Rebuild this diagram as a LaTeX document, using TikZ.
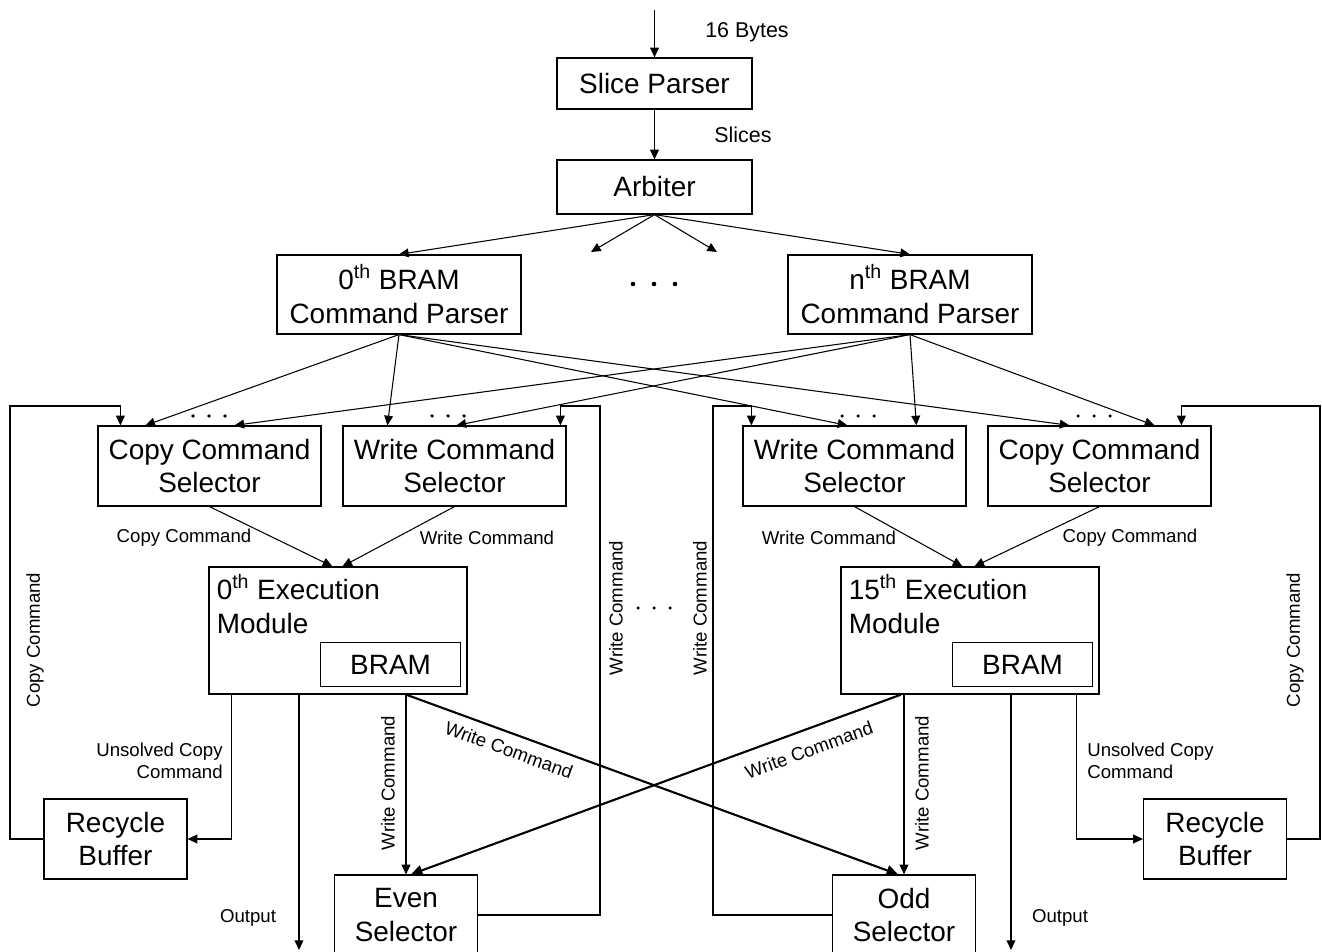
\documentclass[tikz,border=0pt]{standalone}
\usepackage{fontspec}
\setmainfont{Liberation Sans}
\usetikzlibrary{arrows.meta,calc}

\newcommand{\boxfont}{\fontsize{15.9}{19.3}\selectfont}
\newcommand{\lblfont}{\fontsize{10.6}{12.6}\selectfont}
\newcommand{\topfont}{\fontsize{12.2}{14}\selectfont}
% three dots in a row: x, y, spacing, radius
\newcommand{\dotrow}[4]{\foreach \k in {-1,0,1} {\fill (#1+\k*#3,#2) circle[radius=#4];}}

\tikzset{
  blk/.style={draw, line width=0.7pt, inner sep=0pt, align=center, font=\boxfont},
  selbox/.style={blk, minimum width=4.46cm, minimum height=1.6cm},
  smallbox/.style={blk, minimum width=2.86cm, minimum height=1.6cm},
  embox/.style={draw, line width=0.7pt, inner sep=0pt, minimum width=5.16cm, minimum height=2.54cm},
  lbl/.style={inner sep=0pt, font=\lblfont, align=center},
  toplbl/.style={inner sep=0pt, font=\topfont},
  conn/.style={line width=0.6pt, -{Triangle[length=5.5pt,width=5pt]}},
  cross/.style={line width=1.2pt, -{Triangle[length=6.5pt,width=6pt]}},
}

\begin{document}
\begin{tikzpicture}[x=0.02cm, y=-0.02cm]
  \useasboundingbox (0,0) rectangle (1322,952);
  \clip (0,0) rectangle (1322,952);

  % Input side
  \node[blk, minimum width=3.9cm, minimum height=1.02cm] (sp) at (654.5,83.5) {Slice Parser};
  \node[blk, minimum width=3.9cm, minimum height=1.08cm] (arb) at (654.5,187) {Arbiter};
  \coordinate (in) at (654.5,10);
  \draw[conn] (in) -- (sp.north);
  \node[toplbl] (bytes) at (747,32) {16 Bytes};
  \draw[conn] (sp.south) -- (arb.north);
  \node[toplbl] (slices) at (743,135) {Slices};

  % BRAM command parsers
  \node[blk, minimum width=4.88cm, minimum height=1.58cm] (cp0) at (399,294.5) {0\textsuperscript{th} BRAM\\Command Parser};
  \node[blk, minimum width=4.88cm, minimum height=1.58cm] (cpn) at (910,294.5) {n\textsuperscript{th} BRAM\\Command Parser};
  \coordinate (d1) at (591,252);
  \coordinate (d2) at (717,252);
  \draw[conn] (arb.south) -- (cp0.north);
  \draw[conn] (arb.south) -- (d1);
  \draw[conn] (arb.south) -- (d2);
  \draw[conn] (arb.south) -- (cpn.north);
  \dotrow{654}{284}{21}{1.3pt}

  % Selectors
  \node[selbox] (cpl) at (209.5,466) {Copy Command\\Selector};
  \node[selbox] (wrl) at (454.5,466) {Write Command\\Selector};
  \node[selbox] (wrr) at (854.5,466) {Write Command\\Selector};
  \node[selbox] (cpr) at (1099.5,466) {Copy Command\\Selector};

  % Parsers to selectors
  \draw[conn] (cp0.south) -- ($(cpl.north west)+(48,0)$);
  \draw[conn] (cp0.south) -- ($(wrl.north west)+(45,0)$);
  \draw[conn] (cp0.south) -- ($(wrr.north west)+(105,0)$);
  \draw[conn] (cp0.south) -- ($(cpr.north west)+(82,0)$);
  \draw[conn] (cpn.south) -- ($(cpl.north west)+(137,0)$);
  \draw[conn] (cpn.south) -- ($(wrl.north west)+(114,0)$);
  \draw[conn] (cpn.south) -- ($(wrr.north west)+(174,0)$);
  \draw[conn] (cpn.south) -- ($(cpr.north west)+(167,0)$);
  \dotrow{209}{416}{16}{1pt}
  \dotrow{448}{416}{16}{1pt}
  \dotrow{858}{416}{16}{1pt}
  \dotrow{1094}{416}{16}{1pt}

  % Execution modules
  \node[embox] (eml) at (338,630.5) {};
  \node[embox] (emr) at (970,630.5) {};
  \node[anchor=north west, align=left, font=\boxfont, inner sep=0pt] (emlt) at ($(eml.north west)+(8,8)$) {0\textsuperscript{th} Execution\\Module};
  \node[anchor=north west, align=left, font=\boxfont, inner sep=0pt] (emrt) at ($(emr.north west)+(8,8)$) {15\textsuperscript{th} Execution\\Module};
  \node[blk, minimum width=2.8cm, minimum height=0.88cm] (braml) at ($(eml.south east)+(-77,-30)$) {BRAM};
  \node[blk, minimum width=2.8cm, minimum height=0.88cm] (bramr) at ($(emr.south east)+(-77,-30)$) {BRAM};

  % Selectors to execution modules
  \draw[conn] (cpl.south) -- ($(eml.north west)+(124,0)$);
  \draw[conn] (wrl.south) -- ($(eml.north west)+(134,0)$);
  \draw[conn] (wrr.south) -- ($(emr.north west)+(122,0)$);
  \draw[conn] (cpr.south) -- ($(emr.north west)+(134,0)$);
  \node[lbl] (lc1) at (184,538) {Copy Command};
  \node[lbl] (lw1) at (487,538) {Write Command};
  \node[lbl] (lw2) at (829,538) {Write Command};
  \node[lbl] (lc2) at (1130,538) {Copy Command};

  % Bottom row
  \node[smallbox] (rbl) at (115.5,839) {Recycle\\Buffer};
  \node[smallbox] (rbr) at (1215,839) {Recycle\\Buffer};
  \node[smallbox] (even) at (406,915) {Even\\Selector};
  \node[smallbox] (odd) at (904,915) {Odd\\Selector};

  % Write commands to even / odd selectors
  \draw[conn] (even.north |- eml.south) -- (even.north);
  \draw[cross] (even.north |- eml.south) -- ($(odd.north)+(-6,0)$);
  \draw[conn] (odd.north |- emr.south) -- (odd.north);
  \draw[cross] ($(odd.north |- emr.south)+(-3,0)$) -- ($(even.north)+(5,0)$);
  \node[lbl, rotate=90] (lwv1) at (388,783) {Write Command};
  \node[lbl, rotate=90] (lwv2) at (922,783) {Write Command};
  \node[lbl, rotate=-20] (lwd1) at (509,750) {Write Command};
  \node[lbl, rotate=20] (lwd2) at (809,750) {Write Command};

  % Unsolved copy commands and outputs
  \draw[conn] ($(eml.south west)+(23,0)$) |- (rbl.east);
  \draw[conn] ($(emr.south west)+(236,0)$) |- (rbr.west);
  \node[lbl, anchor=east, align=right] (lul) at (223,761) {Unsolved Copy\\Command};
  \node[lbl, anchor=west, align=left] (lur) at (1087,761) {Unsolved Copy\\Command};
  \coordinate (outl) at (299,950);
  \coordinate (outr) at (1011,950);
  \draw[conn] (eml.south -| outl) -- (outl);
  \draw[conn] (emr.south -| outr) -- (outr);
  \node[lbl] (lol) at (248,918) {Output};
  \node[lbl] (lor) at (1060,918) {Output};

  % Feedback loops
  \draw[conn] (rbl.west) -| (10,406) -| ($(cpl.north west)+(23,0)$);
  \draw[conn] (rbr.east) -| (1320,406) -| ($(cpr.north west)+(194,0)$);
  \draw[conn] (even.east) -| (600,406) -| ($(wrl.north west)+(218,0)$);
  \draw[conn] (odd.west) -| (713,406) -| ($(wrr.north west)+(9,0)$);
  \node[lbl, rotate=90] (lcl) at (35,640) {Copy Command};
  \node[lbl, rotate=90] (lcr) at (1295,640) {Copy Command};
  \node[lbl, rotate=90] (lwl) at (616,608) {Write Command};
  \node[lbl, rotate=90] (lwr) at (700,608) {Write Command};
  \dotrow{654}{608}{16}{1pt}
\end{tikzpicture}
\end{document}
